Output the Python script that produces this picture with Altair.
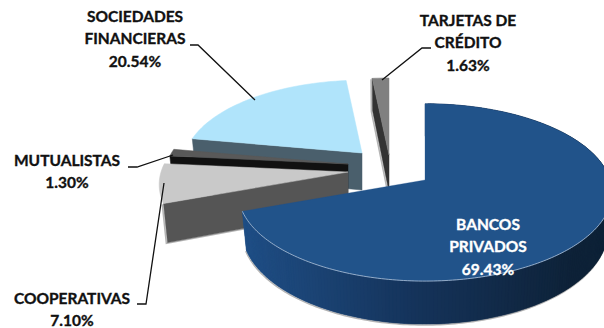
import math
import altair as alt

# Market share by institution type, clockwise from twelve o'clock
names = [["BANCOS", "PRIVADOS"], ["COOPERATIVAS"], ["MUTUALISTAS"],
         ["SOCIEDADES", "FINANCIERAS"], ["TARJETAS  DE", "CRÉDITO"]]
shares = [69.43, 7.10, 1.30, 20.54, 1.63]

top_colors = ["#21538A", "#C9C9C9", "#595959", "#B0E4FB", "#808080"]
side_colors = ["#1F4E85", "#555555", "#111111", "#4A5F6C", "#333333"]

# Exploded position and size of each wedge
apexes = [(425, 180), (348, 172), (348, 164), (362, 153), (389, 155)]
radii = [0.99, 1.0, 0.97, 0.945, 1.0]

# Tilted disc: horizontal radius, vertical radius, perspective, extrusion depth, wall lean
K, KT, P, DEPTH, LEAN = 187.0, 87.8, 0.14, 37.0, 0.022

label_x = [488, 72, 67, 135, 468]
label_y = [225, 299, 161, 17, 21]
label_colors = ["#FFFFFF", "#111111", "#111111", "#111111", "#111111"]
LINE_STEP = 22.4

leaders = [
    [(190, 45), (198, 45), (255, 100)],
    [(431, 48), (422, 48), (382, 80)],
    [(128, 167), (137, 167), (173, 155)],
    [(137, 304), (146, 304), (164, 183)],
]


def rim(apex, radius, deg):
    a = math.radians(deg)
    u, v = math.sin(a), -math.cos(a)
    w = 1 - P * v
    return (apex[0] + radius * K * u / w, apex[1] + radius * KT * v / w, DEPTH / w)


def lower(apex, point):
    # Foot of a wall below a rim point, pulled slightly toward the wedge's axis
    return (point[0] - (point[0] - apex[0]) * LEAN, point[1] + point[2])


def polygon(points, fill, stroke=None):
    ring = [list(p) for p in points] + [list(points[0])]
    return {"type": "Feature",
            "geometry": {"type": "Polygon", "coordinates": [ring]},
            "properties": {"fill": fill, "stroke": stroke or fill}}


def polyline(points):
    return {"type": "Feature",
            "geometry": {"type": "LineString", "coordinates": [list(p) for p in points]},
            "properties": {}}


def mix(c1, c2, t):
    a = [int(c1[i:i + 2], 16) for i in (1, 3, 5)]
    b = [int(c2[i:i + 2], 16) for i in (1, 3, 5)]
    return "#%02X%02X%02X" % tuple(round(x + (y - x) * t) for x, y in zip(a, b))


def wedge_arc(i, step):
    start, end = edges[i], edges[i + 1]
    steps = max(3, int((end - start) / step))
    return [rim(apexes[i], radii[i], start + (end - start) * k / steps) for k in range(steps + 1)]


# Wedge angle limits come straight from the shares
edges = [0.0]
for s in shares:
    edges.append(edges[-1] + s * 3.6)

# Small wedges painted from back to front: radial wall, then top face
small_shapes = []
fringe = []
for i in [4, 3, 2, 1]:
    apex = apexes[i]
    arc = wedge_arc(i, 2.0)
    a0 = arc[0]
    wall = [apex, a0[:2], lower(apex, a0), (apex[0], apex[1] + DEPTH)]
    small_shapes.append(polygon(wall, side_colors[i]))
    small_shapes.append(polygon([apex] + [a[:2] for a in arc], top_colors[i]))
    if i in (1, 4):
        fringe.append(polyline([(x - 1.2, y + 0.8) for x, y in wall[1:4]]))

# Curved wall of the large wedge, shaded from left to right; each segment overlaps the next
big_arc = wedge_arc(0, 1.0)
wall_shapes = []
for k in range(len(big_arc) - 1):
    p, q = big_arc[k], big_arc[min(k + 2, len(big_arc) - 1)]
    t = min(1.0, max(0.0, (p[0] - 245) / 330))
    shade = mix("#1F4E85", "#15345C", t * 2) if t < 0.5 else mix("#15345C", "#0E2238", t * 2 - 1)
    wall_shapes.append(polygon([p[:2], q[:2], lower(apexes[0], q), lower(apexes[0], p)], shade))

big_top = [polygon([apexes[0]] + [a[:2] for a in big_arc], top_colors[0])]

# Pale bevel along the front of the large wedge, soft grey under its wall
front = [p for p in big_arc if p[1] > apexes[0][1] + 20]
bevel = [polyline([p[:2] for p in front])]
feet = [lower(apexes[0], p) for p in front]
fringe.append(polyline([(x - 0.6, y + 0.9) for x, y in feet]))

texts = []
for i, lines in enumerate(names):
    for j, line in enumerate(lines + [f"{shares[i]:.2f}%"]):
        texts.append({"t": line, "lon": label_x[i], "lat": label_y[i] + j * LINE_STEP, "c": label_colors[i]})

proj = alt.Projection(type="identity", scale=1, translate=[0, 0]).to_dict()


def filled_layer(features, width):
    return alt.Chart(alt.Data(values=features)).mark_geoshape(strokeWidth=width, opacity=1).encode(
        color=alt.Color("properties.fill:N", scale=None),
        stroke=alt.Stroke("properties.stroke:N", scale=None),
    ).project(**proj)


def line_layer(features, colour, width):
    return alt.Chart(alt.Data(values=features)).mark_geoshape(
        filled=False, stroke=colour, strokeWidth=width).project(**proj)


label_layer = alt.Chart(alt.Data(values=texts)).mark_text(
    font="Lato", fontWeight="bold", fontSize=15.5, align="center", baseline="middle", strokeWidth=0.35
).encode(
    longitude="lon:Q",
    latitude="lat:Q",
    text="t:N",
    color=alt.Color("c:N", scale=None),
    stroke=alt.Stroke("c:N", scale=None),
).project(**proj)

chart = alt.layer(
    line_layer(fringe, "#B5B5B5", 1.5),
    filled_layer(small_shapes, 0.5),
    filled_layer(wall_shapes, 0.3),
    filled_layer(big_top, 0.3),
    line_layer(bevel, "#9FB6CF", 0.9),
    line_layer([polyline(l) for l in leaders], "#111111", 1.3),
    label_layer,
).properties(
    width=604, height=328, padding=0, autosize=alt.AutoSizeParams(type="none"),
    background="#FFFFFF",
).configure_view(strokeWidth=0)

chart.save("out.html", embed_options={"renderer": "svg", "actions": False})
